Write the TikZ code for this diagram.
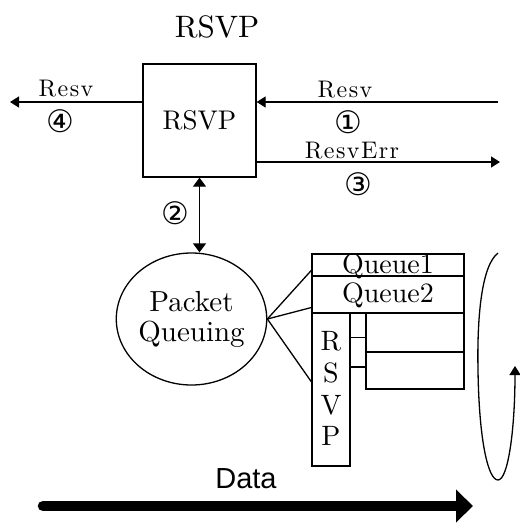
\documentclass[tikz,border=0pt]{standalone}
\usepackage{fontspec}
\setmainfont{lmroman10-regular.otf}
\newfontfamily\symfont{DejaVu Sans}
\newfontfamily\datafont{Liberation Sans}
\usetikzlibrary{arrows.meta,calc,shapes.geometric}
\tikzset{
  ln/.style={line width=1.3pt},
  tip/.style={-{Triangle[length=9pt,width=11pt]}},
  dtip/.style={{Triangle[length=9pt,width=13pt]}-{Triangle[length=9pt,width=13pt]}},
  box/.style={draw, line width=1.3pt, rectangle, inner sep=0pt},
  lab/.style={font=\fontsize{24}{26}\selectfont\addfontfeatures{LetterSpace=6}, inner sep=0pt, anchor=base},
  qlab/.style={font=\fontsize{28}{30}\selectfont, inner sep=0pt, anchor=base},
  num/.style={font=\symfont\fontsize{31}{34}\selectfont, inner sep=0pt},
}
\begin{document}
\begin{tikzpicture}[x=1pt,y=-1pt]
\useasboundingbox (0,0) rectangle (520,523);
% title
\node[font=\fontsize{31}{35}\selectfont, inner sep=0pt] (title) at (217,27) {RSVP};
% RSVP box
\node[box, minimum width=113pt, minimum height=113pt, font=\fontsize{27}{31}\selectfont] (rsvp) at (199.5,120.5) {RSVP};
\coordinate (lend) at (10,102);
\coordinate (rstart) at (498,102);
\coordinate (rend) at (500,162);
\draw[ln, tip] (rsvp.west |- lend) -- (lend);
\draw[ln, tip] (rstart) -- (rsvp.east |- rstart);
\draw[ln, tip] (rsvp.east |- rend) -- (rend);
\node[lab] (resvL) at (66,96) {Resv};
\node[lab] (resvR) at (345,97) {Resv};
\node[lab] (resverr) at (352,158) {ResvErr};
\node[num] (n4) at (60,121) {④};
\node[num] (n1) at (348,122) {①};
\node[num] (n3) at (358,184) {③};
\node[num] (n2) at (175,213) {②};
% packet queuing
\node[draw, ellipse, line width=1.3pt, minimum width=139pt, minimum height=132pt, inner sep=0pt, align=center, font=\fontsize{29}{30}\selectfont] (pq) at (191.5,319) {Packet\\Queuing};
\draw[ln, dtip] (rsvp.south) -- (rsvp.south |- pq.north);
% queues
\node[box, minimum width=152pt, minimum height=22pt] (q1) at (388,265) {};
\node[qlab] (q1t) at (388,273) {Queue1};
\node[box, minimum width=152pt, minimum height=37pt] (q2) at (388,294.5) {};
\node[qlab] (q2t) at (388,302) {Queue2};
\node[box, minimum width=38pt, minimum height=153pt] (col) at (331,389.5) {};
\node[qlab] (cR) at (331,350) {R};
\node[qlab] (cS) at (331,382) {S};
\node[qlab] (cV) at (331,414) {V};
\node[qlab] (cP) at (331,445) {P};
\node[box, minimum width=98pt, minimum height=39pt] (sb1) at (415,332.5) {};
\node[box, minimum width=98pt, minimum height=37pt] (sb2) at (415,370.5) {};
\coordinate (c1) at ($(sb1.north west)!0.62!(sb1.south west)$);
\coordinate (c2) at ($(sb2.north west)!0.41!(sb2.south west)$);
\draw[ln] (col.east |- c1) -- (c1);
\draw[ln] (col.east |- c2) -- (c2);
% fan lines
\draw[ln] (pq.east) -- ($(q1.south west)!0.27!(q1.north west)$);
\draw[ln] (pq.east) -- ($(q2.south west)!0.16!(q2.north west)$);
\draw[ln] (pq.east) -- ($(col.north west)!0.45!(col.south west)$);
% loop
\draw[ln, tip] (498,253) .. controls (481,266) and (477,320) .. (478,370)
  .. controls (479,440) and (488,480) .. (498,480)
  .. controls (508,480) and (515,430) .. (515,366);
% data
\coordinate (ds) at (43,506);
\coordinate (de) at (473,506);
\draw[line width=10.5pt, line cap=round, -{Triangle[length=17pt,width=32pt]}] (ds) -- (de);
\node[font=\datafont\fontsize{29}{32}\selectfont, inner sep=0pt, anchor=base] (data) at (246,488) {Data};
\end{tikzpicture}
\end{document}
